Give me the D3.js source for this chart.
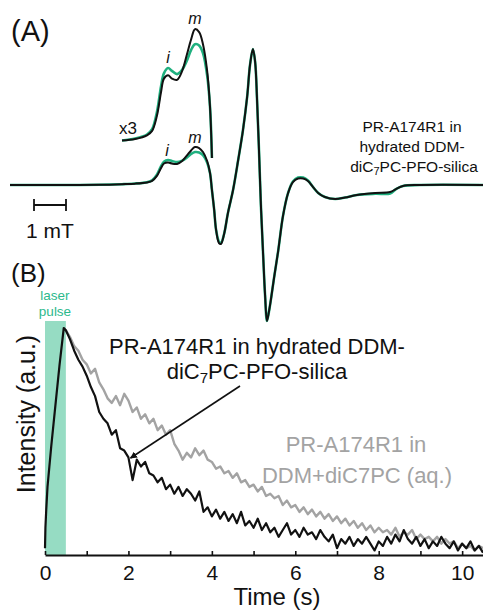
<!DOCTYPE html>
<html>
<head>
<meta charset="utf-8">
<script src="https://cdn.jsdelivr.net/npm/d3@7"></script>
<style>
  html, body { margin: 0; padding: 0; background: #fff; }
  svg { display: block; font-family: "Liberation Sans", Arial, Helvetica, sans-serif; }
</style>
</head>
<body>
<svg id="chart" width="483" height="613"></svg>
<script>
// ---------- (A) cw EPR spectrum, first-derivative ----------
// relative field position (mT)
const eprField = [0, 1.56, 2.81, 3.50, 3.91, 4.28, 4.44, 4.59, 4.72, 4.81, 4.94, 5.06, 5.22, 5.38,
  5.53, 5.66, 5.78, 5.91, 6.03, 6.16, 6.25, 6.31, 6.38, 6.44, 6.53, 6.59, 6.69, 6.81, 6.97,
  7.13, 7.28, 7.41, 7.50, 7.59, 7.66, 7.72, 7.78, 7.84, 7.91, 7.97, 8.03, 8.09, 8.16, 8.25,
  8.38, 8.53, 8.69, 8.84, 9.00, 9.16, 9.31, 9.47, 9.63, 9.84, 10.16, 10.47, 10.84, 11.41,
  11.88, 12.06, 12.28, 12.81, 14.78];
// derivative intensity (a.u.), black trace
const eprBlack = [0, 0, 0.15, 0.6, 1.0, 1.9, 3.0, 6.7, 12.6, 15.9, 16.7, 15.9, 15.6, 17.8,
  21.9, 25.6, 28.1, 27.4, 24.4, 17.8, 8.9, -3.7, -18.5, -33.3, -43.0, -43.7, -36.3, -20.7, -3.7,
  18.5, 40.7, 65.2, 88.9, 100.7, 91.1, 63.0, 25.9, -14.8, -51.9, -81.5, -100.7, -94.0, -83.7, -68.9,
  -48.9, -23.0, -5.9, 2.2, 4.8, 4.8, 3.0, -1.5, -5.9, -8.9, -10.4, -9.3, -7.4, -5.9,
  -5.2, -3.0, -0.7, 0, 0];
// derivative intensity (a.u.), green trace
const eprGreen = [0, 0, 0.15, 0.6, 1.1, 2.1, 3.4, 7.6, 14.0, 17.2, 18.5, 17.8, 17.0, 18.1,
  20.4, 23.0, 24.4, 24.1, 22.2, 16.7, 8.9, -3.7, -18.5, -33.3, -42.0, -43.0, -36.3, -20.7, -3.7,
  18.5, 40.7, 65.2, 88.9, 100.7, 91.1, 63.0, 25.9, -14.8, -51.9, -81.5, -100.7, -94.0, -83.7, -68.9,
  -48.9, -23.0, -5.9, 2.6, 5.5, 5.5, 3.4, -1.5, -5.9, -8.9, -10.4, -9.3, -7.4, -6.5,
  -6.3, -3.0, -0.7, 0, 0];
// field window shown magnified x3
const zoomWindow = [3.5, 6.31];
const zoomFactor = 3;

// ---------- (B) transient intensity vs time ----------
// rising edge during the laser pulse (silica sample)
const riseTime = [0, 0.01, 0.03, 0.06, 0.15, 0.25, 0.35, 0.45];
const riseSilica = [0.03, 0.12, 0.2, 0.3, 0.48, 0.66, 0.84, 1.0];
// decay sampled every 0.1 s from 0.5 s to 10.5 s
const decayStart = 0.5, decayStep = 0.1;
const decaySilica = [
  0.99, 0.95, 0.90, 0.86, 0.83, 0.79, 0.74, 0.70, 0.63, 0.60,
  0.58, 0.53, 0.55, 0.47, 0.46, 0.43, 0.33, 0.42, 0.39, 0.41,
  0.36, 0.35, 0.32, 0.34, 0.29, 0.31, 0.27, 0.30, 0.26, 0.29,
  0.27, 0.24, 0.28, 0.19, 0.21, 0.17, 0.20, 0.16, 0.19, 0.15,
  0.18, 0.14, 0.19, 0.13, 0.15, 0.12, 0.16, 0.11, 0.14, 0.10,
  0.12, 0.08, 0.11, 0.14, 0.09, 0.11, 0.08, 0.12, 0.09, 0.10,
  0.07, 0.11, 0.08, 0.06, 0.09, 0.03, 0.07, 0.05, 0.08, 0.04,
  0.07, 0.05, 0.08, 0.05, 0.02, 0.06, 0.04, 0.08, 0.05, 0.09,
  0.06, 0.11, 0.07, 0.05, 0.08, 0.04, 0.07, 0.03, 0.06, 0.04,
  0.08, 0.05, 0.03, 0.06, 0.02, 0.05, 0.03, 0.06, 0.02, 0.04,
  0.01];
const decayAqueous = [
  0.99, 0.96, 0.92, 0.90, 0.86, 0.84, 0.80, 0.82, 0.76, 0.73,
  0.69, 0.67, 0.70, 0.66, 0.71, 0.68, 0.63, 0.65, 0.60, 0.62,
  0.58, 0.60, 0.55, 0.57, 0.53, 0.55, 0.49, 0.46, 0.42, 0.45,
  0.43, 0.47, 0.44, 0.46, 0.42, 0.41, 0.38, 0.39, 0.36, 0.37,
  0.34, 0.36, 0.32, 0.33, 0.30, 0.31, 0.28, 0.30, 0.26, 0.27,
  0.25, 0.26, 0.22, 0.24, 0.21, 0.22, 0.19, 0.21, 0.18, 0.20,
  0.17, 0.19, 0.16, 0.18, 0.15, 0.17, 0.14, 0.16, 0.13, 0.15,
  0.12, 0.14, 0.11, 0.13, 0.10, 0.12, 0.10, 0.11, 0.09, 0.12,
  0.08, 0.10, 0.09, 0.11, 0.07, 0.09, 0.07, 0.08, 0.06, 0.08,
  0.05, 0.07, 0.05, 0.06, 0.03, 0.05, 0.03, 0.04, 0.02, 0.04,
  0.03];
const laserPulse = [0, 0.5];            // s
const timeTicks = [0, 1, 2, 3, 4, 5, 6, 7, 8, 9, 10];

// ---------- colours ----------
const GREEN = "#1fb07f";
const GREEN_TEXT = "#2cb98c";
const PULSE_FILL = "#96dcc3";
const GRAY = "#a3a3a3";

const svg = d3.select("#chart");

// ================= Panel A =================
const xA = d3.scaleLinear().domain([0, 14.78]).range([10, 483]);
const yA = d3.scaleLinear().domain([-100, 100]).range([320, 50]);
// magnified copy: same field scale, intensity x3, shifted upward
const yAzoom = d3.scaleLinear().domain([-100 / zoomFactor, 100 / zoomFactor]).range([278, 8]);

const specBlack = eprField.map((f, i) => ({ f, v: eprBlack[i] }));
const specGreen = eprField.map((f, i) => ({ f, v: eprGreen[i] }));
const inWin = d => d.f >= zoomWindow[0] && d.f <= zoomWindow[1];

const lineA = d3.line().x(d => xA(d.f)).y(d => yA(d.v)).curve(d3.curveCatmullRom.alpha(0.5));
const lineAz = d3.line().x(d => xA(d.f)).y(d => yAzoom(d.v)).curve(d3.curveCatmullRom.alpha(0.5));

const gA = svg.append("g");
gA.append("path").attr("d", lineA(specGreen)).attr("fill", "none")
  .attr("stroke", GREEN).attr("stroke-width", 2.6).attr("stroke-linejoin", "round");
gA.append("path").attr("d", lineA(specBlack)).attr("fill", "none")
  .attr("stroke", "#111").attr("stroke-width", 2).attr("stroke-linejoin", "round");
gA.append("path").attr("d", lineAz(specGreen.filter(inWin))).attr("fill", "none")
  .attr("stroke", GREEN).attr("stroke-width", 2.6).attr("stroke-linejoin", "round");
gA.append("path").attr("d", lineAz(specBlack.filter(inWin))).attr("fill", "none")
  .attr("stroke", "#111").attr("stroke-width", 2).attr("stroke-linejoin", "round");

// panel letter
svg.append("text").attr("x", 11).attr("y", 41).attr("font-size", 29).attr("fill", "#111").text("(A)");

// peak markers i / m
const peakI = eprField[10], peakM = eprField[16];
const markTxt = (x, y, t) => svg.append("text").attr("x", x).attr("y", y)
  .attr("text-anchor", "middle").attr("font-size", 16).attr("font-style", "italic")
  .attr("fill", "#111").text(t);
markTxt(xA(peakI), yAzoom(eprBlack[10]) - 12, "i");
markTxt(xA(peakM), yAzoom(eprBlack[16]) - 5, "m");
markTxt(xA(peakI) - 1, yA(eprBlack[10]) - 6, "i");
markTxt(xA(peakM), yA(eprBlack[16]) - 4, "m");

// x3 marker
svg.append("text").attr("x", 119).attr("y", 134).attr("font-size", 17).attr("fill", "#111").text("x3");

// sample label
const labA = svg.append("text").attr("font-size", 15.5).attr("fill", "#111").attr("text-anchor", "middle");
labA.append("tspan").attr("x", 412).attr("y", 132).text("PR-A174R1 in");
labA.append("tspan").attr("x", 412).attr("y", 152).text("hydrated DDM-");
const l3 = labA.append("tspan").attr("x", 414).attr("y", 172);
l3.append("tspan").text("diC");
l3.append("tspan").attr("font-size", 11).attr("dy", 3).text("7");
l3.append("tspan").attr("dy", -3).text("PC-PFO-silica");

// 1 mT scale bar
const bar = svg.append("g").attr("stroke", "#111").attr("stroke-width", 1.8);
bar.append("line").attr("x1", xA(0.75)).attr("x2", xA(1.75)).attr("y1", 205).attr("y2", 205);
bar.append("line").attr("x1", xA(0.75)).attr("x2", xA(0.75)).attr("y1", 199).attr("y2", 211);
bar.append("line").attr("x1", xA(1.75)).attr("x2", xA(1.75)).attr("y1", 199).attr("y2", 211);
svg.append("text").attr("x", xA(1.25)).attr("y", 238).attr("text-anchor", "middle")
  .attr("font-size", 21).attr("fill", "#111").text("1 mT");

// ================= Panel B =================
const xB = d3.scaleLinear().domain([0, 10.5]).range([45, 483]);
const yB = d3.scaleLinear().domain([0, 1]).range([555, 328]);

svg.append("text").attr("x", 11).attr("y", 282).attr("font-size", 26).attr("fill", "#111").text("(B)");

// laser pulse band
svg.append("rect").attr("x", xB(laserPulse[0])).attr("width", xB(laserPulse[1]) - xB(laserPulse[0]))
  .attr("y", 321).attr("height", yB(0) - 321).attr("fill", PULSE_FILL);
svg.append("text").attr("x", 55).attr("y", 300).attr("text-anchor", "middle")
  .attr("font-size", 13.5).attr("fill", GREEN_TEXT).text("laser");
svg.append("text").attr("x", 55).attr("y", 315.5).attr("text-anchor", "middle")
  .attr("font-size", 13.5).attr("fill", GREEN_TEXT).text("pulse");

const decayTime = decaySilica.map((_, i) => decayStart + i * decayStep);
const silica = riseTime.map((t, i) => ({ t, v: riseSilica[i] }))
  .concat(decayTime.map((t, i) => ({ t, v: decaySilica[i] })));
const aqueous = [{ t: riseTime[riseTime.length - 1], v: riseSilica[riseSilica.length - 1] }]
  .concat(decayTime.map((t, i) => ({ t, v: decayAqueous[i] })));

const lineB = d3.line().x(d => xB(d.t)).y(d => yB(d.v));
svg.append("path").attr("d", lineB(aqueous)).attr("fill", "none")
  .attr("stroke", GRAY).attr("stroke-width", 2.4).attr("stroke-linejoin", "round");
svg.append("path").attr("d", lineB(silica)).attr("fill", "none")
  .attr("stroke", "#111").attr("stroke-width", 2.2).attr("stroke-linejoin", "round");

// x axis
const axB = svg.append("g").attr("transform", `translate(0,${yB(0)})`)
  .call(d3.axisBottom(xB).tickValues(timeTicks).tickSize(-4).tickSizeOuter(0).tickPadding(10)
    .tickFormat(d => d % 2 === 0 ? d : ""));
axB.select(".domain").attr("stroke", "#111").attr("stroke-width", 2);
axB.selectAll(".tick line").attr("stroke", "#111").attr("stroke-width", 1.6);
axB.selectAll(".tick text").attr("font-size", 21).attr("fill", "#111")
  .attr("font-family", "Liberation Sans, Arial, sans-serif");

svg.append("text").attr("x", 277).attr("y", 605).attr("text-anchor", "middle")
  .attr("font-size", 24).attr("fill", "#111").text("Time (s)");
svg.append("text").attr("transform", "translate(35,414) rotate(-90)").attr("text-anchor", "middle")
  .attr("font-size", 25).attr("fill", "#111").text("Intensity (a.u.)");

// series labels
const lb = svg.append("text").attr("text-anchor", "middle").attr("font-size", 22).attr("fill", "#111");
lb.append("tspan").attr("x", 257).attr("y", 354).text("PR-A174R1 in hydrated DDM-");
const lb2 = lb.append("tspan").attr("x", 257).attr("y", 379);
lb2.append("tspan").text("diC");
lb2.append("tspan").attr("font-size", 15).attr("dy", 4).text("7");
lb2.append("tspan").attr("dy", -4).text("PC-PFO-silica");

const lg = svg.append("text").attr("text-anchor", "middle").attr("font-size", 22).attr("fill", GRAY);
lg.append("tspan").attr("x", 356).attr("y", 452).text("PR-A174R1 in");
lg.append("tspan").attr("x", 357).attr("y", 483).text("DDM+diC7PC (aq.)");

// arrow to the silica trace
svg.append("defs").append("marker").attr("id", "ah").attr("viewBox", "0 0 10 10")
  .attr("refX", 9).attr("refY", 5).attr("markerWidth", 7).attr("markerHeight", 7)
  .attr("markerUnits", "userSpaceOnUse").attr("orient", "auto")
  .append("path").attr("d", "M0,0L10,5L0,10z").attr("fill", "#111");
svg.append("line").attr("x1", 240).attr("y1", 386).attr("x2", xB(2.05)).attr("y2", 458)
  .attr("stroke", "#111").attr("stroke-width", 1.6).attr("marker-end", "url(#ah)");
</script>
</body>
</html>
